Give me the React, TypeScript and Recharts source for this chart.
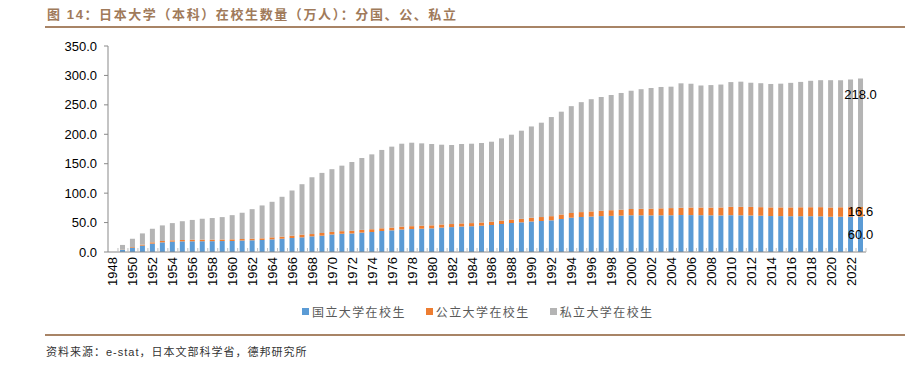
import { BarChart, Bar, XAxis, YAxis, LabelList } from 'recharts';

const YEARS = Array.from({ length: 76 }, (_, i) => String(1948 + i));

// 国立
const NATIONAL = [
  0, 3.5, 7.4, 10.8, 14.2, 16.4, 17.6, 18.1, 18.2, 18.3, 18.4, 18.6, 18.7, 19.5, 19.9, 20.4,
  21.5, 22.6, 23.8, 24.9, 26.6, 27.7, 29.8, 31.0, 31.5, 33.0, 34.0, 35.7, 36.8, 38.3, 39.0, 39.6,
  40.2, 41.5, 42.3, 43.3, 43.8, 44.7, 45.9, 47.6, 49.3, 50.4, 51.9, 52.7, 53.8, 56.1, 58.3, 59.5,
  60.2, 61.0, 61.4, 61.8, 62.4, 62.3, 62.2, 62.3, 62.4, 62.8, 62.7, 62.5, 62.3, 62.1, 62.5, 62.3,
  62.0, 61.6, 61.1, 61.0, 60.8, 60.8, 60.8, 60.6, 59.9, 60.0, 59.9, 60.0,
];

// 公立
const PUBLIC = [
  0, 0.3, 1.1, 1.7, 2.2, 2.3, 2.2, 2.3, 2.7, 2.7, 2.6, 2.6, 2.8, 2.6, 2.7, 2.8,
  3.4, 3.4, 3.9, 4.5, 3.9, 4.6, 4.3, 4.4, 4.5, 4.6, 4.7, 4.6, 4.7, 4.8, 4.9, 5.0,
  5.1, 5.2, 5.2, 5.3, 5.3, 5.4, 5.5, 5.6, 5.8, 6.0, 6.4, 6.7, 7.1, 7.6, 8.0, 8.3,
  8.7, 9.1, 9.6, 10.1, 10.7, 11.1, 11.5, 11.9, 12.2, 12.4, 12.9, 13.1, 13.2, 13.6, 14.2, 14.4,
  14.6, 14.6, 14.7, 14.8, 15.0, 15.2, 15.3, 15.6, 15.8, 16.0, 16.3, 16.6,
];

// 私立
const PRIVATE = [
  0, 8.2, 14.0, 19.1, 23.1, 26.5, 29.3, 31.9, 33.6, 35.5, 36.7, 38.1, 41.1, 44.6, 50.2, 55.9,
  60.4, 67.8, 76.8, 85.8, 96.5, 102.1, 106.6, 111.3, 116.9, 122.1, 127.2, 133.1, 137.5, 140.9, 141.8, 140.0,
  138.2, 135.6, 134.3, 134.9, 134.9, 135.1, 136.0, 139.9, 144.2, 149.7, 155.0, 160.3, 168.4, 174.7, 181.5, 186.8,
  190.7, 193.3, 195.8, 198.3, 200.9, 203.2, 204.9, 206.2, 206.3, 211.4, 210.3, 207.3, 208.1, 208.8, 212.0, 212.7,
  211.0, 210.6, 209.7, 210.2, 211.6, 213.0, 214.8, 215.7, 216.2, 215.8, 216.9, 218.0,
];

const Y_TICKS = [0, 50, 100, 150, 200, 250, 300, 350];

const SERIES = [
  { key: 'national', name: '国立大学在校生', color: '#5B9BD5' },
  { key: 'public', name: '公立大学在校生', color: '#ED7D31' },
  { key: 'private', name: '私立大学在校生', color: '#B4B4B4' },
];

const LAST = YEARS.length - 1;

// only the latest year carries data labels
const data = YEARS.map((year, i) => ({
  year,
  national: NATIONAL[i],
  public: PUBLIC[i],
  private: PRIVATE[i],
  nationalLabel: i === LAST ? NATIONAL[i] : undefined,
  publicLabel: i === LAST ? PUBLIC[i] : undefined,
  privateLabel: i === LAST ? PRIVATE[i] : undefined,
}));

const NUM_FONT = '"Liberation Sans", Arial, sans-serif';
const CJK_FONT = '"Liberation Sans", "Noto Sans CJK SC", sans-serif';

const PLOT_LEFT = 108;
const PLOT_RIGHT = 866;
const BAND = (PLOT_RIGHT - PLOT_LEFT) / YEARS.length;

function XTick(props: any) {
  const { x, y, payload, index } = props;
  return (
    <g>
      <line x1={x + BAND / 2} x2={x + BAND / 2} y1={y - 4} y2={y} stroke="#BFBFBF" />
      {index % 2 === 0 && (
        <text
          x={x}
          y={y + 5}
          transform={`rotate(-90 ${x} ${y + 5})`}
          textAnchor="end"
          dominantBaseline="central"
          fontSize={13}
          fontFamily={NUM_FONT}
          fill="#000"
        >
          {payload.value}
        </text>
      )}
    </g>
  );
}

const fmt = (v: any) => (v === undefined || v === null ? '' : Number(v).toFixed(1));
const labelStyle = { fontSize: 13, fontFamily: NUM_FONT, fill: '#000' };

export default function App() {
  return (
    <div
      style={{
        position: 'absolute',
        left: 0,
        top: 0,
        width: 912,
        height: 367,
        background: '#fff',
        fontFamily: CJK_FONT,
      }}
    >
      <div
        style={{
          position: 'absolute',
          left: 47,
          top: 4,
          fontSize: 13,
          fontWeight: 'bold',
          letterSpacing: 1.6,
          color: '#A07A5A',
          whiteSpace: 'nowrap',
        }}
      >
        图 14：日本大学（本科）在校生数量（万人）：分国、公、私立
      </div>
      <div style={{ position: 'absolute', left: 45, top: 26, width: 860, height: 2, background: '#A88466' }} />

      <div style={{ position: 'absolute', left: 0, top: 0 }}>
        <BarChart
          width={912}
          height={367}
          data={data}
          margin={{ top: 46, right: 912 - PLOT_RIGHT, bottom: 75, left: PLOT_LEFT - 60 }}
          barSize={5}
        >
          <XAxis
            dataKey="year"
            interval={0}
            tick={<XTick />}
            tickLine={false}
            tickSize={0}
            tickMargin={0}
            height={40}
            axisLine={{ stroke: '#898989' }}
          />
          <YAxis
            width={60}
            domain={[0, 350]}
            ticks={Y_TICKS}
            tickFormatter={(v: number) => v.toFixed(1)}
            tick={{ fontSize: 13, fill: '#000', fontFamily: NUM_FONT }}
            tickSize={4}
            tickMargin={7}
            tickLine={{ stroke: '#898989' }}
            axisLine={{ stroke: '#898989' }}
          />
          <Bar dataKey="national" stackId="a" fill={SERIES[0].color} isAnimationActive={false}>
            <LabelList dataKey="nationalLabel" position="center" formatter={fmt} style={labelStyle} />
          </Bar>
          <Bar dataKey="public" stackId="a" fill={SERIES[1].color} isAnimationActive={false}>
            <LabelList dataKey="publicLabel" position="center" formatter={fmt} style={labelStyle} />
          </Bar>
          <Bar dataKey="private" stackId="a" fill={SERIES[2].color} isAnimationActive={false}>
            <LabelList dataKey="privateLabel" position="insideTop" offset={11} formatter={fmt} style={labelStyle} />
          </Bar>
        </BarChart>
      </div>

      <div
        style={{
          position: 'absolute',
          left: 302,
          top: 303,
          display: 'flex',
          gap: 20,
          fontSize: 12,
          color: '#595959',
          letterSpacing: 1.4,
          whiteSpace: 'nowrap',
        }}
      >
        {SERIES.map((s) => (
          <div key={s.key} style={{ display: 'flex', alignItems: 'center' }}>
            <span style={{ width: 7, height: 7, background: s.color, marginRight: 3, display: 'inline-block' }} />
            <span>{s.name}</span>
          </div>
        ))}
      </div>

      <div style={{ position: 'absolute', left: 45, top: 334, width: 860, height: 2, background: '#A88466' }} />
      <div
        style={{
          position: 'absolute',
          left: 46,
          top: 343,
          fontSize: 11,
          color: '#333',
          letterSpacing: 1.0,
          whiteSpace: 'nowrap',
        }}
      >
        资料来源：e-stat，日本文部科学省，德邦研究所
      </div>
    </div>
  );
}
